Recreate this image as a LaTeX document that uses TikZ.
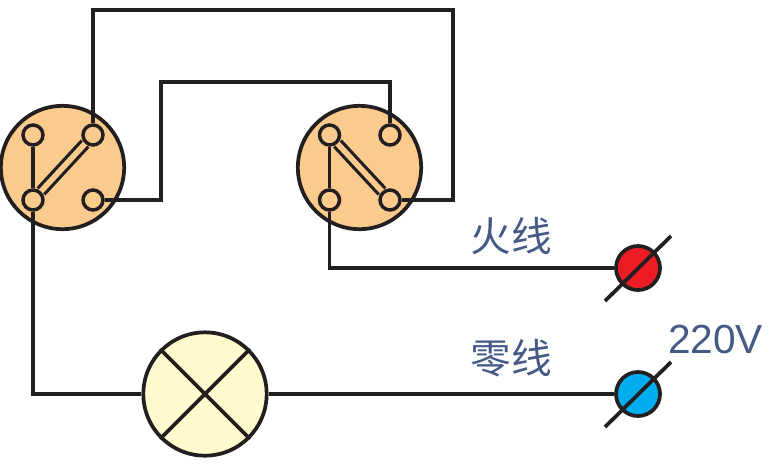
\documentclass[tikz,border=0pt]{standalone}
\usepackage{fontspec}
\setmainfont{Liberation Sans}
\newfontfamily\cjkfont{Noto Sans CJK SC}
\definecolor{discorange}{HTML}{FBCB8E}
\definecolor{lampyellow}{HTML}{FFFBCF}
\definecolor{wireblack}{HTML}{231F20}
\definecolor{labelblue}{HTML}{465A86}
\definecolor{livered}{HTML}{ED1C24}
\definecolor{neutralblue}{HTML}{00AEEF}
\begin{document}
\begin{tikzpicture}
[
    x=0.75pt, y=-0.75pt,
    wire/.style={draw=wireblack, line width=2.8pt, line join=miter},
    disc/.style={circle, draw=wireblack, line width=2.8pt, fill=discorange, inner sep=0pt, minimum size=92.5pt},
    lamp/.style={disc, fill=lampyellow},
    terminal/.style={circle, draw=wireblack, line width=2.6pt, fill=discorange, inner sep=0pt, minimum size=15pt},
    source/.style={circle, draw=wireblack, line width=2.8pt, inner sep=0pt, minimum size=33pt},
    blade/.style={draw=wireblack, line width=2.4pt, double=discorange, double distance=4.2pt},
    label/.style={text=labelblue, inner sep=0pt, font=\fontsize{30.5pt}{30.5pt}\selectfont},
]
\useasboundingbox (0,0) rectangle (775,469);

\node [disc] (leftdisc) at (62.5,167.5) {};
\node [disc] (rightdisc) at (359.5,167.5) {};
\node [lamp] (lampbody) at (205,394) {};

% left switch
\node [terminal] (lefttl) at (33,135) {};
\node [terminal] (lefttr) at (93,135) {};
\node [terminal] (leftbl) at (33,200) {};
\node [terminal] (leftbr) at (93,200) {};
% right switch
\node [terminal] (righttl) at (329.5,135) {};
\node [terminal] (righttr) at (390,135) {};
\node [terminal] (rightbl) at (329.5,200) {};
\node [terminal] (rightbr) at (390,200) {};

\node [source, fill=livered] (live) at (638,268) {};
\node [source, fill=neutralblue] (neutral) at (638,394) {};

\coordinate (topleft) at (93,10);
\coordinate (topright) at (453,10);
\coordinate (cornerright) at (453,200);
\coordinate (midbottom) at (161,200);
\coordinate (midtop) at (161,82);
\coordinate (midright) at (390,82);
\coordinate (liveslasha) at (605,301);
\coordinate (liveslashb) at (671,236);
\coordinate (neutralslasha) at (605,427);
\coordinate (neutralslashb) at (671,362);

% wires
\draw [wire] (lefttr) -- (topleft) -- (topright) -- (cornerright) -- (rightbr);
\draw [wire] (leftbr) -- (midbottom) -- (midtop) -- (midright) -- (righttr);
\draw [wire] (lefttl) -- (leftbl);
\draw [wire] (righttl) -- (rightbl);
\draw [wire] (leftbl) |- (lampbody);
\draw [wire] (lampbody) -- (neutral);
\draw [wire] (rightbl) |- (live);

% blades
\draw [blade] (leftbl) -- (lefttr);
\draw [blade] (righttl) -- (rightbr);

% lamp cross
\draw [wire] (lampbody.45) -- (lampbody.225);
\draw [wire] (lampbody.135) -- (lampbody.315);

% slashes
\draw [wire] (liveslasha) -- (liveslashb);
\draw [wire] (neutralslasha) -- (neutralslashb);

\node [label] (livelabel) at (511,236) {\cjkfont 火线};
\node [label] (neutrallabel) at (511,358) {\cjkfont 零线};
\node [label] (voltlabel) at (715.5,339) {220V};
\end{tikzpicture}
\end{document}
